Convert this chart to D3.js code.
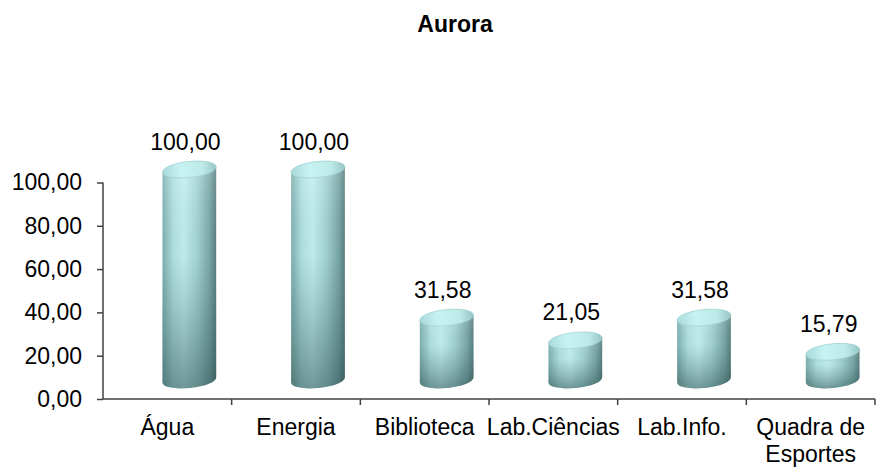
<!DOCTYPE html>
<html>
<head>
<meta charset="utf-8">
<script src="https://cdn.jsdelivr.net/npm/d3@7"></script>
<style>
  body { margin: 0; background: #fff; }
  svg { display: block; font-family: "Liberation Sans", Arial, sans-serif; }
</style>
</head>
<body>
<div id="chart"></div>
<script>
// Data
const title = "Aurora";
const categories = ["Água", "Energia", "Biblioteca", "Lab.Ciências", "Lab.Info.", "Quadra de Esportes"];
const values = [100.00, 100.00, 31.58, 21.05, 31.58, 15.79];
const yTicks = [0, 20, 40, 60, 80, 100];

const width = 876, height = 467;
const fmt = v => d3.format(".2f")(v).replace(".", ",");

const svg = d3.select("#chart").append("svg")
    .attr("width", width)
    .attr("height", height);

// gradients for the cylinders
const defs = svg.append("defs");
const bodyGrad = defs.append("linearGradient").attr("id", "body").attr("x1", 0).attr("x2", 1).attr("y1", 0).attr("y2", 0);
[[0, "#7fb0b0"], [0.2, "#b3e3e3"], [0.4, "#c4f1f1"], [0.65, "#a5d5d5"], [0.88, "#7aa7a7"], [1, "#587e7e"]]
    .forEach(s => bodyGrad.append("stop").attr("offset", s[0]).attr("stop-color", s[1]));
const shade = defs.append("linearGradient").attr("id", "shade").attr("x1", 0).attr("x2", 0).attr("y1", 0).attr("y2", 1);
[[0, "#ffffff", 0.15], [0.4, "#406868", 0.05], [1, "#1f4040", 0.5]]
    .forEach(s => shade.append("stop").attr("offset", s[0]).attr("stop-color", s[1]).attr("stop-opacity", s[2]));
const topGrad = defs.append("linearGradient").attr("id", "top").attr("x1", 0).attr("x2", 1).attr("y1", 0).attr("y2", 0);
[[0, "#a9dada"], [0.35, "#c8f3f3"], [0.75, "#bde9e9"], [1, "#96c5c5"]]
    .forEach(s => topGrad.append("stop").attr("offset", s[0]).attr("stop-color", s[1]));

// Scales
const x = d3.scaleBand().domain(categories).range([103, 875]).padding(0);
const y = d3.scaleLinear().domain([0, 100]).range([399, 182.5]);

// Axes
const yAxis = svg.append("g")
    .attr("transform", "translate(103,0)")
    .call(d3.axisLeft(y).tickValues(yTicks).tickFormat(fmt).tickSize(6).tickPadding(15));
yAxis.select(".domain").attr("stroke", "#404040").attr("stroke-width", 1.5).attr("d", `M0,${y(100)}V${y(0)}`);
yAxis.selectAll(".tick line").attr("stroke", "#404040").attr("stroke-width", 1.5);
yAxis.selectAll("text").attr("font-size", 23).attr("fill", "#000").attr("font-family", "Liberation Sans, Arial, sans-serif");

const xAxis = svg.append("g")
    .attr("transform", `translate(0,${y(0)})`)
    .call(d3.axisBottom(x).tickSize(0).tickPadding(20));
xAxis.select(".domain").attr("stroke", "#404040").attr("stroke-width", 1.5).attr("d", `M103,0H875`);
xAxis.selectAll("text").attr("font-size", 23).attr("fill", "#000").attr("font-family", "Liberation Sans, Arial, sans-serif")
    .each(function (d) {
        const words = d === "Quadra de Esportes" ? ["Quadra de", "Esportes"] : [d];
        if (words.length > 1) {
            const t = d3.select(this).text(null);
            words.forEach((w, i) => t.append("tspan").attr("x", 0).attr("dy", i === 0 ? "0.71em" : "1.15em").text(w));
        }
    });

// boundary ticks between categories
xAxis.selectAll(".bound")
    .data(categories)
    .enter().append("line")
    .attr("class", "bound")
    .attr("x1", d => x(d) + x.bandwidth())
    .attr("x2", d => x(d) + x.bandwidth())
    .attr("y1", 0).attr("y2", 6)
    .attr("stroke", "#404040").attr("stroke-width", 1.5);

// Cylinders
const depthX = 22, rx = 27, ry = 8, tilt = 6;
const sx = rx * Math.cos(tilt * Math.PI / 180), sy = rx * Math.sin(tilt * Math.PI / 180);
const baseY = y(0) - 19;

const bars = svg.append("g").selectAll("g")
    .data(values.map((v, i) => ({ cat: categories[i], v })))
    .enter().append("g");

bars.each(function (d) {
    const g = d3.select(this);
    const cx = x(d.cat) + x.bandwidth() / 2 + depthX;
    const topY = y(d.v) - 13;
    const body = `M${cx - sx},${topY + sy}L${cx - sx},${baseY + sy}` +
        `A${rx},${ry} ${-tilt} 0 0 ${cx + sx},${baseY - sy}` +
        `L${cx + sx},${topY - sy}Z`;
    g.append("path").attr("d", body).attr("fill", "url(#body)");
    g.append("path").attr("d", body).attr("fill", "url(#shade)");
    g.append("ellipse")
        .attr("cx", cx).attr("cy", topY).attr("rx", rx).attr("ry", ry)
        .attr("transform", `rotate(${-tilt},${cx},${topY})`)
        .attr("fill", "url(#top)")
        .attr("stroke", "#a3d2d2").attr("stroke-width", 0.8);

    g.append("text")
        .attr("x", cx - 4)
        .attr("y", topY - ry - 12)
        .attr("text-anchor", "middle")
        .attr("font-size", 23)
        .attr("fill", "#000")
        .text(fmt(d.v));
});

// Title
svg.append("text")
    .attr("x", 455)
    .attr("y", 32)
    .attr("text-anchor", "middle")
    .attr("font-size", 23)
    .attr("font-weight", "bold")
    .attr("fill", "#000")
    .text(title);
</script>
</body>
</html>
